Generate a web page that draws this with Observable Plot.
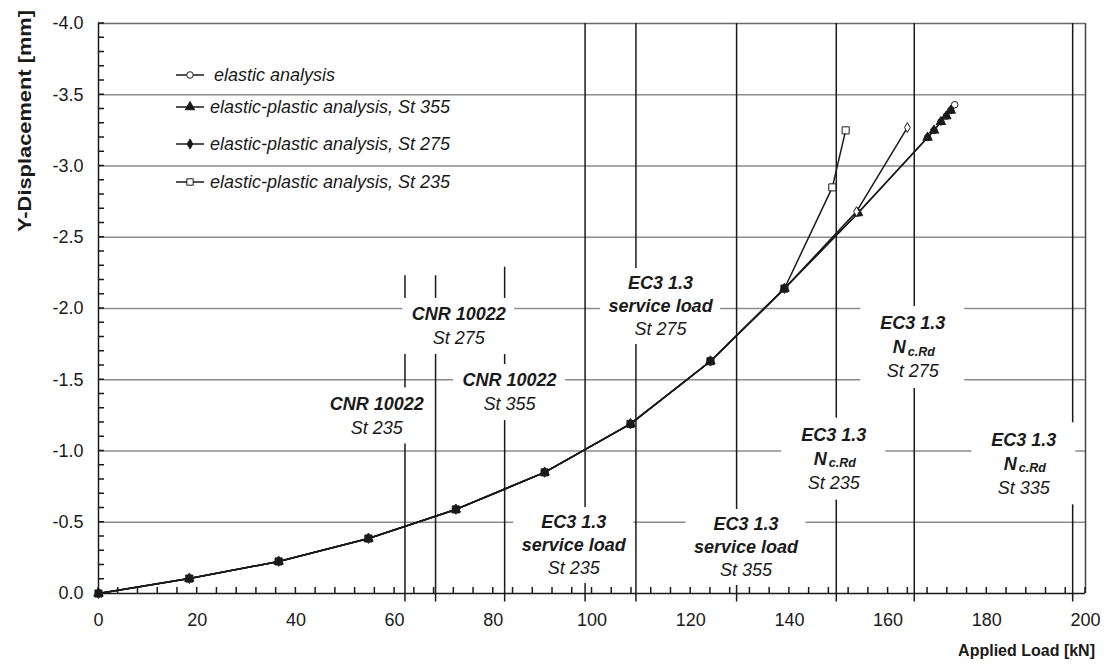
<!DOCTYPE html>
<html>
<head>
<meta charset="utf-8">
<script src="https://cdn.jsdelivr.net/npm/d3@7"></script>
<script src="https://cdn.jsdelivr.net/npm/@observablehq/plot@0.6"></script>
<style>
  html, body { margin: 0; padding: 0; background: #fff; }
</style>
</head>
<body>
<div id="chart"></div>
<script>
// ---------- data ----------
const commonLoad = [0, 18.4, 36.5, 54.7, 72.4, 90.4, 107.8, 124.0, 139.0];
const commonDisp = [0, -0.105, -0.225, -0.386, -0.59, -0.85, -1.19, -1.63, -2.14];

const elasticLoad = [...commonLoad, 153.9, 168.0, 169.3, 170.7, 171.8, 172.7, 173.5];
const elasticDisp = [...commonDisp, -2.67, -3.20, -3.25, -3.31, -3.35, -3.39, -3.43];
const st355Load = [...commonLoad, 153.9, 168.0, 169.3, 170.7, 171.8, 172.7];
const st355Disp = [...commonDisp, -2.67, -3.20, -3.25, -3.31, -3.35, -3.39];
const st275Load = [...commonLoad, 153.6, 163.9];
const st275Disp = [...commonDisp, -2.68, -3.27];
const st235Load = [...commonLoad, 148.7, 151.4];
const st235Disp = [...commonDisp, -2.85, -3.25];

const seriesNames = [
  "elastic analysis",
  "elastic-plastic analysis, St 355",
  "elastic-plastic analysis, St 275",
  "elastic-plastic analysis, St 235"
];

// limit-load vertical lines
const limitLoad = [62.1, 68.3, 82.3, 98.6, 108.9, 129.3, 149.5, 165.3, 197.4];
const limitTop  = [-2.23, -2.23, -2.29, -4, -4, -4, -4, -4, -4];

// annotation labels (block centres, data units)
const cnrTitle = "CNR 10022";
const cnrSteel = ["St 235", "St 275", "St 355"];
const cnrLoad  = [56.4, 73.0, 83.3];
const cnrDisp  = [-1.246, -1.874, -1.41];

const ec3Title = "EC3 1.3";
const svcKind  = "service load";
const svcSteel = ["St 235", "St 275", "St 355"];
const svcLoad  = [96.3, 113.9, 131.2];
const svcDisp  = [-0.337, -2.014, -0.323];

const ncrdSteel = ["St 235", "St 275", "St 335"];
const ncrdLoad  = [149.0, 165.0, 187.5];
const ncrdDisp  = [-0.943, -1.726, -0.910];

const xTicks = d3.range(0, 201, 20);
const xMinor = d3.range(0, 201, 4);
const yTicks = [0, -0.5, -1, -1.5, -2, -2.5, -3, -3.5, -4];
const yGrid  = [-0.5, -1, -1.5, -2, -2.5, -3, -3.5];
const yMinor = d3.range(0, 41).map(i => -i / 10);

// ---------- tables ----------
const cnr  = cnrSteel.map((s, i) => ({steel: s, x: cnrLoad[i], y: cnrDisp[i]}));
const svc  = svcSteel.map((s, i) => ({steel: s, x: svcLoad[i], y: svcDisp[i]}));
const ncrd = ncrdSteel.map((s, i) => ({steel: s, x: ncrdLoad[i], y: ncrdDisp[i]}));
const limits = limitLoad.map((x, i) => ({x, top: limitTop[i]}));

const ink = "#1a1a1a";
const font = "Liberation Sans, Arial, Helvetica, sans-serif";
const W = 1107, H = 666, ML = 98, MR = 22, MT = 23, MB = 73;

function boxes(data, hw, hh) {
  return Plot.rect(data, {x1: "x", x2: "x", y1: "y", y2: "y", fill: "white",
    insetLeft: -hw, insetRight: -hw, insetTop: -hh, insetBottom: -hh});
}
const bi = {fontWeight: "bold", fontStyle: "italic", fontSize: 18, fill: ink};
const it = {fontStyle: "italic", fontSize: 18, fill: ink};

const line = (X, Y) => Plot.line(X, {x: X, y: Y, stroke: ink, strokeWidth: 1.5});
const dots = (X, Y, symbol, fill, r) =>
  Plot.dot(X, {x: X, y: Y, symbol, fill, stroke: ink, strokeWidth: 1, r});
// shared points (where all four analyses coincide) read as solid markers
const sharedFill = (X) => X.map((_, i) => i < commonLoad.length ? ink : "white");

const chart = Plot.plot({
  width: W,
  height: H,
  marginLeft: ML,
  marginRight: MR,
  marginTop: MT,
  marginBottom: MB,
  style: {fontFamily: font, fontSize: "17px", background: "white", color: ink},
  x: {domain: [0, 200]},
  y: {domain: [0, -4]},
  marks: [
    Plot.ruleY(yGrid, {stroke: "#8c8c8c", strokeWidth: 1.5}),
    Plot.ruleY([-4], {stroke: "#6a6a6a", strokeWidth: 1.5}),
    Plot.ruleX([200], {stroke: "#444", strokeWidth: 1.5}),
    Plot.ruleX(limits, {x: "x", y1: 0.06, y2: "top", stroke: ink, strokeWidth: 1.5}),
    boxes(cnr, 56, 28),
    boxes(svc, 60, 38),
    boxes(ncrd, 52, 41),
    Plot.text(cnr, {x: "x", y: "y", text: () => cnrTitle, dy: -12, ...bi}),
    Plot.text(cnr, {x: "x", y: "y", text: "steel", dy: 12, ...it}),
    Plot.text(svc, {x: "x", y: "y", text: () => ec3Title, dy: -23, ...bi}),
    Plot.text(svc, {x: "x", y: "y", text: () => svcKind, dy: 0, ...bi}),
    Plot.text(svc, {x: "x", y: "y", text: "steel", dy: 23, ...it}),
    Plot.text(ncrd, {x: "x", y: "y", text: () => ec3Title, dy: -24, ...bi}),
    Plot.text(ncrd, {x: "x", y: "y", text: () => "N", dy: 0, dx: -20, textAnchor: "start", ...bi}),
    Plot.text(ncrd, {x: "x", y: "y", text: () => "c.Rd", dy: 4, dx: -5, textAnchor: "start", ...bi, fontSize: 12.5}),
    Plot.text(ncrd, {x: "x", y: "y", text: "steel", dy: 24, ...it}),
    line(st235Load, st235Disp),
    line(st275Load, st275Disp),
    line(st355Load, st355Disp),
    line(elasticLoad, elasticDisp),
    dots(elasticLoad, elasticDisp, "circle", "white", 3.3),
    dots(st355Load, st355Disp, "triangle", ink, 3.5),
    dots(st275Load, st275Disp, "diamond", "white", 3),
    dots(st235Load, st235Disp, "square", sharedFill(st235Load), 4),
    Plot.ruleY([0], {stroke: ink, strokeWidth: 1.5}),
    Plot.ruleX([0], {stroke: ink, strokeWidth: 1.5}),
    Plot.axisX({ticks: xTicks, tickSize: 0, tickPadding: 20, fontSize: 18, label: null, fill: ink}),
    Plot.axisY({ticks: yTicks, tickSize: 0, tickPadding: 15, fontSize: 18, label: null, fill: ink,
      tickFormat: d => d.toFixed(1)})
  ]
});

document.getElementById("chart").appendChild(chart);

// ---------- minor ticks (inward), legend & axis titles ----------
const svg = d3.select(chart);
const sx = chart.scale("x"), sy = chart.scale("y");
const minor = svg.append("g");
xMinor.forEach(v => {
  const px = sx.apply(v), py = sy.apply(0);
  minor.append("line").attr("x1", px).attr("x2", px).attr("y1", py).attr("y2", py - 6)
    .attr("stroke", ink).attr("stroke-width", 1.5);
});
yMinor.forEach(v => {
  const px = sx.apply(0), py = sy.apply(v);
  minor.append("line").attr("x1", px).attr("x2", px + 6).attr("y1", py).attr("y2", py)
    .attr("stroke", ink).attr("stroke-width", 1.5);
});

const legendY = [75, 107, 144, 182];
const legSym = [
  {type: d3.symbolCircle, fill: "white", r: 3.3},
  {type: d3.symbolTriangle, fill: ink, r: 3.5},
  {type: d3.symbolDiamond, fill: ink, r: 3},
  {type: d3.symbolSquare, fill: "white", r: 3.6}
];
const leg = svg.append("g").attr("font-family", font).attr("font-size", 18)
  .attr("font-style", "italic").attr("fill", ink).attr("text-anchor", "start");
seriesNames.forEach((name, i) => {
  const y = legendY[i];
  leg.append("line").attr("x1", 176).attr("x2", 204).attr("y1", y).attr("y2", y)
    .attr("stroke", ink).attr("stroke-width", 1.5);
  const s = legSym[i];
  leg.append("path").attr("transform", `translate(190,${y})`)
    .attr("d", d3.symbol(s.type, s.r * s.r * Math.PI)())
    .attr("fill", s.fill).attr("stroke", ink).attr("stroke-width", 1);
  leg.append("text").attr("x", i === 0 ? 214 : 210).attr("y", y).attr("dy", "0.35em")
    .attr("text-anchor", "start").text(name);
});

svg.append("text")
  .attr("transform", "translate(25,121) rotate(-90)")
  .attr("text-anchor", "middle").attr("dy", "0.35em")
  .attr("font-family", font).attr("font-weight", "bold").attr("font-size", 18)
  .attr("fill", ink)
  .attr("textLength", 222).attr("lengthAdjust", "spacingAndGlyphs")
  .text("Y-Displacement [mm]");

svg.append("text")
  .attr("x", 1095).attr("y", 650)
  .attr("text-anchor", "end").attr("dy", "0.35em")
  .attr("font-family", font).attr("font-weight", "bold").attr("font-size", 16)
  .attr("fill", ink)
  .text("Applied Load [kN]");
</script>
</body>
</html>
